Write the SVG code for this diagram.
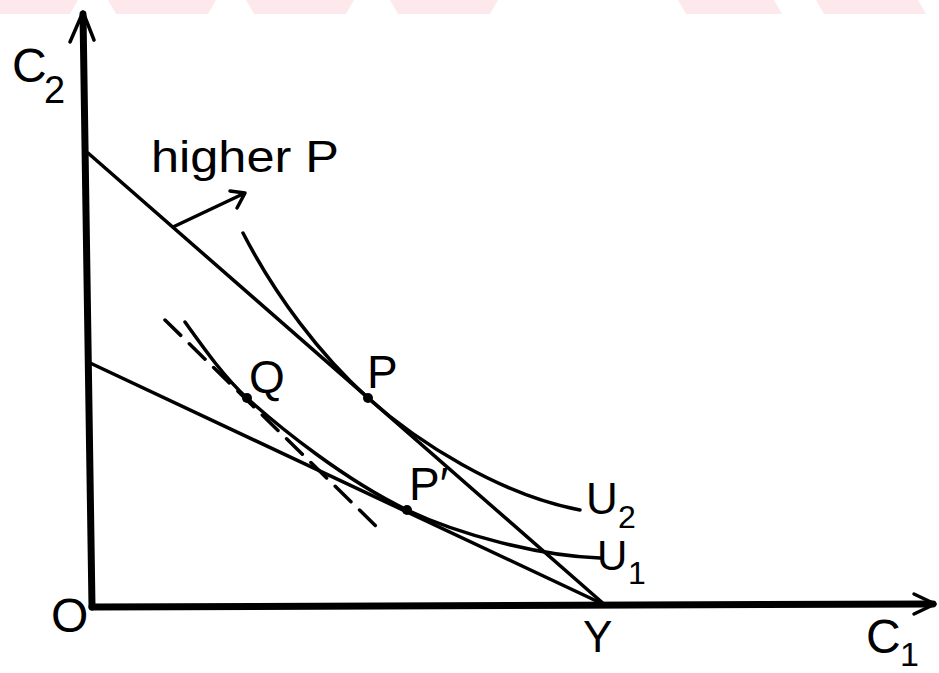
<svg xmlns="http://www.w3.org/2000/svg" width="939" height="673" viewBox="0 0 939 673">
<style>
.t{font-family:"Liberation Sans","DejaVu Sans",sans-serif;fill:#000}
.ln{fill:none;stroke:#000;stroke-width:3.5;stroke-linecap:round;stroke-linejoin:round}
.ax{fill:none;stroke:#000;stroke-width:7;stroke-linecap:round;stroke-linejoin:round}
.wm{fill:#fde8ec}
</style>
<rect width="939" height="673" fill="#fff"/>
<g id="watermark">
<polygon class="wm" points="0,0 78,0 70,14 0,14"/>
<polygon class="wm" points="108,0 216,0 208,14 116,14"/>
<polygon class="wm" points="246,0 354,0 346,14 254,14"/>
<polygon class="wm" points="390,0 498,0 490,14 398,14"/>
<polygon class="wm" points="678,0 774,0 782,14 686,14"/>
<polygon class="wm" points="816,0 918,0 926,14 824,14"/>
</g>
<g id="axes">
<path class="ax" d="M92,607 L83,14"/>
<path class="ln" d="M70,42 L83,12 L94,40" stroke-width="5"/>
<path class="ax" d="M92,607 L933,604"/>
<path class="ln" d="M914,594 L935,604 L914,614" stroke-width="5"/>
</g>
<g id="connectors">
<path id="budget-high" class="ln" d="M88,153 L605,605"/>
<path id="budget-low" class="ln" d="M88,362 L605,605"/>
<path id="U2-curve" class="ln" d="M243,233 C275,295 320,355 368,398 S500,495 580,510"/>
<path id="U1-curve" class="ln" d="M185,322 C205,350 225,378 247,398 C280,428 345,480 407,510 C460,535 540,556 600,558"/>
<path id="tangent-Q" class="ln" d="M165,320 L383,533" stroke-dasharray="22 12"/>
<path id="higher-arrow" class="ln" d="M173,227 L245,193 M230,191 L245,193 L237,208"/>
</g>
<g id="point-P"><circle cx="368" cy="398" r="5"/><text class="t" x="367" y="388" font-size="46">P</text></g>
<g id="point-Q"><circle cx="247" cy="398" r="5"/><text class="t" x="249" y="393" font-size="46">Q</text></g>
<g id="point-P-prime"><circle cx="407" cy="510" r="5"/><text class="t" x="409" y="500" font-size="46">P′</text></g>
<g id="label-C2"><text class="t" x="12" y="82" font-size="48">C</text><text class="t" x="44" y="103" font-size="38">2</text></g>
<g id="label-C1"><text class="t" x="866" y="653" font-size="48">C</text><text class="t" x="900" y="666" font-size="34">1</text></g>
<g id="label-higher"><text class="t" x="151" y="172" font-size="44" textLength="188" lengthAdjust="spacingAndGlyphs">higher P</text></g>
<g id="label-U2"><text class="t" x="586" y="514" font-size="44">U</text><text class="t" x="618" y="528" font-size="32">2</text></g>
<g id="label-U1"><text class="t" x="597" y="570" font-size="42">U</text><text class="t" x="628" y="584" font-size="32">1</text></g>
<g id="label-O"><text class="t" x="51" y="632" font-size="48">O</text></g>
<g id="label-Y"><text class="t" x="583" y="652" font-size="44">Y</text></g>
</svg>
